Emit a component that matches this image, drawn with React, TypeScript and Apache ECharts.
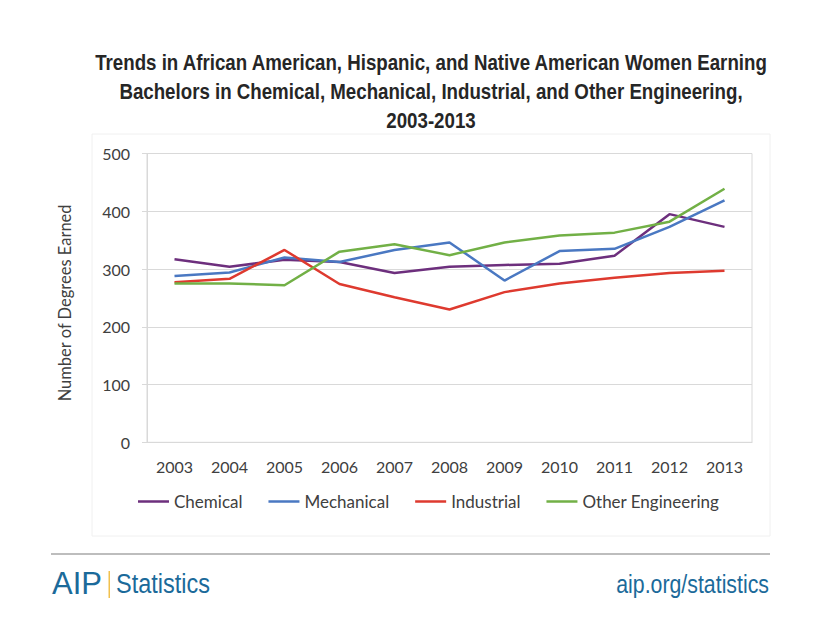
import React, { useEffect, useRef } from "react";
import * as echarts from "echarts";

const years = ["2003", "2004", "2005", "2006", "2007", "2008", "2009", "2010", "2011", "2012", "2013"];
const chemical = [317, 304, 316, 312, 293, 304, 307, 309, 323, 395, 373];
const mechanical = [288, 294, 320, 312, 333, 346, 280, 331, 335, 373, 419];
const industrial = [277, 283, 333, 274, 251, 230, 260, 275, 285, 293, 297];
const otherEng = [275, 275, 272, 330, 343, 324, 346, 358, 363, 382, 439];
const seriesNames = ["Chemical", "Mechanical", "Industrial", "Other Engineering"];
const seriesColors = ["#6d2f7d", "#4a78c2", "#de3a2f", "#72b046"];
const titleLines = [
  "Trends in African American, Hispanic, and Native American Women Earning",
  "Bachelors in Chemical, Mechanical, Industrial, and Other Engineering,",
  "2003-2013",
];

export default function App() {
  const ref = useRef<HTMLDivElement>(null);
  useEffect(() => {
    if (!ref.current) return;
    const chart = echarts.init(ref.current, null, { renderer: "svg" });
    const data = [chemical, mechanical, industrial, otherEng];
    const labelFont = { fontFamily: "Lato", fontSize: 16, color: "#404040" };
    const titleEls = titleLines.map((t, i) => ({
      type: "text",
      x: 431,
      y: 62 + i * 29,
      scaleX: 0.85,
      style: {
        text: t,
        fontFamily: "Liberation Sans",
        fontWeight: "bold",
        fontSize: 22,
        fill: "#262626",
        align: "center",
        verticalAlign: "middle",
      },
    }));
    chart.setOption({
      animation: false,
      backgroundColor: "#ffffff",
      legend: {
        data: seriesNames,
        left: 138,
        top: 493,
        padding: 0,
        icon: "rect",
        itemWidth: 31,
        itemHeight: 2.5,
        itemGap: 26,
        textStyle: { ...labelFont, fontSize: 17 },
      },
      grid: {
        left: 147,
        top: 153.5,
        right: 68,
        bottom: 192.7,
        show: true,
        borderColor: "#d9d9d9",
        borderWidth: 1,
      },
      xAxis: {
        type: "category",
        data: years,
        boundaryGap: true,
        axisLine: { lineStyle: { color: "#d9d9d9", width: 1 } },
        axisTick: { alignWithLabel: true, length: 5, lineStyle: { color: "#d9d9d9" } },
        axisLabel: { ...labelFont, margin: 16 },
      },
      yAxis: {
        type: "value",
        min: 0,
        max: 500,
        interval: 100,
        name: "Number of Degrees Earned",
        nameLocation: "middle",
        nameGap: 74,
        nameTextStyle: {
          fontFamily: "Lato",
          fontSize: 16.5,
          color: "#404040",
          padding: [0, 10, 0, 0],
        },
        axisLine: { show: true, lineStyle: { color: "#d9d9d9", width: 1 } },
        axisTick: { show: true, length: 5, lineStyle: { color: "#d9d9d9" } },
        axisLabel: { ...labelFont, margin: 17 },
        splitLine: { lineStyle: { color: "#d9d9d9", width: 1 } },
      },
      series: seriesNames.map((n, i) => ({
        name: n,
        type: "line",
        data: data[i],
        symbol: "none",
        color: seriesColors[i],
        lineStyle: { width: 2.5, color: seriesColors[i] },
      })),
      graphic: [
        ...titleEls,
        {
          type: "rect",
          shape: { x: 92, y: 134, width: 678, height: 402 },
          style: { fill: "none", stroke: "#f0f0f0", lineWidth: 1 },
          silent: true,
          z: -10,
        },
        {
          type: "line",
          shape: { x1: 51, y1: 554, x2: 770, y2: 554 },
          style: { stroke: "#bdbdbd", lineWidth: 2 },
        },
        {
          type: "text",
          x: 52,
          y: 583,
          style: {
            text: "AIP",
            fontFamily: "Liberation Sans",
            fontSize: 31,
            fill: "#1b6a9a",
            verticalAlign: "middle",
          },
        },
        {
          type: "rect",
          shape: { x: 108.5, y: 571, width: 1.5, height: 27 },
          style: { fill: "#f2c14e" },
        },
        {
          type: "text",
          x: 116,
          y: 583,
          scaleX: 0.84,
          style: {
            text: "Statistics",
            fontFamily: "Liberation Sans",
            fontSize: 28,
            fill: "#1b6a9a",
            verticalAlign: "middle",
          },
        },
        {
          type: "text",
          x: 769,
          y: 584,
          scaleX: 0.82,
          style: {
            text: "aip.org/statistics",
            fontFamily: "Liberation Sans",
            fontSize: 26,
            fill: "#1b6a9a",
            align: "right",
            verticalAlign: "middle",
          },
        },
      ],
    });
    return () => chart.dispose();
  }, []);
  return (
    <div
      ref={ref}
      style={{ position: "absolute", left: 0, top: 0, width: 820, height: 635 }}
    />
  );
}
